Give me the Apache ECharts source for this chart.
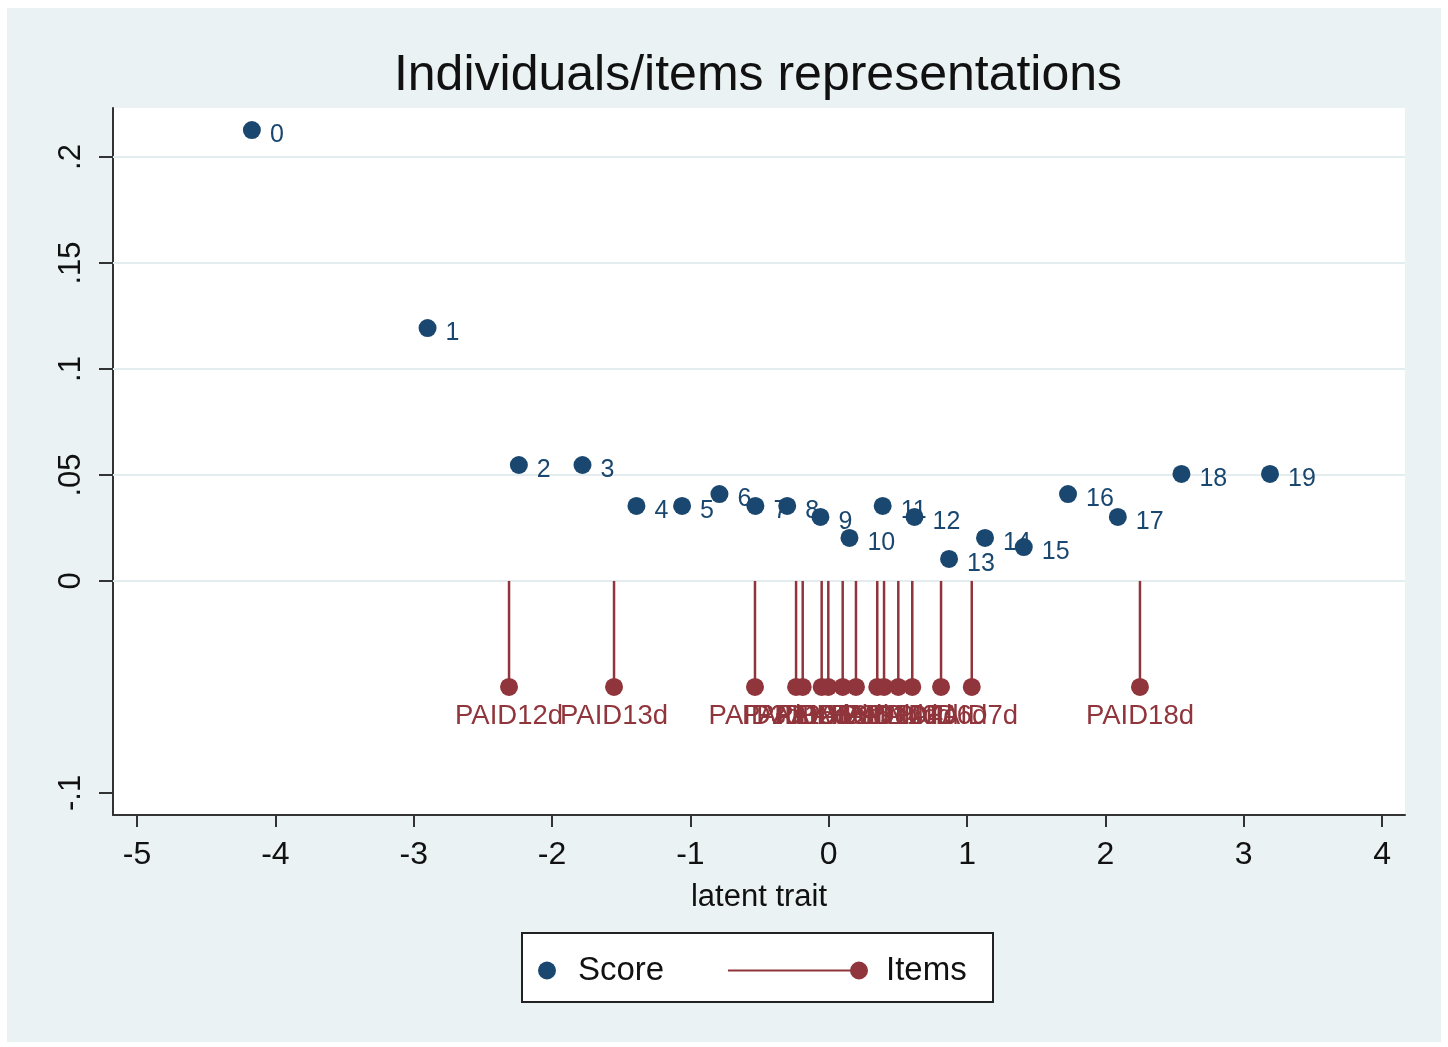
<!DOCTYPE html>
<html>
<head>
<meta charset="utf-8">
<script src="https://cdn.jsdelivr.net/npm/echarts@6/dist/echarts.min.js"></script>
<style>
  html, body { margin: 0; padding: 0; background: #ffffff; }
  #wrap { position: relative; width: 1448px; height: 1047px; background: #ffffff; }
  #chart { position: absolute; left: 7px; top: 8px; width: 1434px; height: 1034px; background: #eaf2f3; }
</style>
</head>
<body>
<div id="wrap"><div id="chart"></div></div>
<script>
// person scores: latent trait value and density, labelled by raw score
const scoreLabels = ['0','1','2','3','4','5','6','7','8','9','10','11','12','13','14','15','16','17','18','19'];
const scoreX = [-4.17, -2.90, -2.24, -1.78, -1.39, -1.06, -0.79, -0.53, -0.30, -0.06,
                0.15, 0.39, 0.62, 0.87, 1.13, 1.41, 1.73, 2.09, 2.55, 3.19];
const scoreY = [0.2127, 0.1193, 0.0547, 0.0547, 0.0354, 0.0354, 0.0410, 0.0354, 0.0354, 0.0302,
                0.0203, 0.0354, 0.0302, 0.0104, 0.0203, 0.0160, 0.0410, 0.0302, 0.0505, 0.0505];

// item difficulties
const itemNames = ['PAID12d','PAID13d','PAID3d','PAID15d','PAID2d','PAID5d','PAID16d','PAID9d',
                   'PAID19d','PAID1d','PAID14d','PAID10d','PAID4d','PAID6d','PAID7d','PAID18d'];
const itemX = [-2.311, -1.552, -0.533, -0.236, -0.188, -0.051, -0.003, 0.101,
               0.197, 0.351, 0.400, 0.503, 0.604, 0.812, 1.034, 2.250];
const itemLevel = -0.05;

// axes
const xTicks = [-5, -4, -3, -2, -1, 0, 1, 2, 3, 4];
const yTicks = [-0.1, 0, 0.05, 0.1, 0.15, 0.2];
const yTickLabels = ['-.1', '0', '.05', '.1', '.15', '.2'];
const yGrid = [0, 0.05, 0.1, 0.15, 0.2];

const NAVY = '#1a476f';
const MAROON = '#90353b';
const FONT = "'Liberation Sans', Arial, Helvetica, sans-serif";

const chart = echarts.init(document.getElementById('chart'));

const scoreData = scoreX.map((x, i) => ({ value: [x, scoreY[i]], name: scoreLabels[i] }));
const itemData = itemX.map((x, i) => ({ value: [x, itemLevel], name: itemNames[i] }));

chart.setOption({
  backgroundColor: 'transparent',
  animation: false,
  title: {
    text: 'Individuals/items representations',
    left: 746,
    top: 38,
    textAlign: 'center',
    textStyle: { fontFamily: FONT, fontSize: 50, fontWeight: 'normal', color: '#111' }
  },
  grid: {
    left: 106, top: 100, width: 1292, height: 707,
    show: true, backgroundColor: '#ffffff', borderWidth: 0
  },
  xAxis: {
    type: 'value',
    min: -5.174, max: 4.166,
    name: 'latent trait',
    nameLocation: 'middle',
    nameGap: 67,
    nameTextStyle: { fontFamily: FONT, fontSize: 31, color: '#111' },
    axisLine: { show: true, onZero: false, lineStyle: { color: '#333', width: 2 } },
    axisTick: { show: true, length: 12, customValues: xTicks, lineStyle: { color: '#333', width: 2 } },
    axisLabel: { customValues: xTicks, margin: 24, fontFamily: FONT, fontSize: 32, color: '#111' },
    splitLine: { show: false }
  },
  yAxis: {
    type: 'value',
    min: -0.1104, max: 0.2231,
    axisLine: { show: true, onZero: false, lineStyle: { color: '#333', width: 2 } },
    axisTick: { show: true, length: 14, customValues: yTicks, lineStyle: { color: '#333', width: 2 } },
    axisLabel: {
      customValues: yTicks, rotate: 90, margin: 26,
      fontFamily: FONT, fontSize: 31, color: '#111',
      formatter: v => {
        const k = yTicks.findIndex(t => Math.abs(t - v) < 1e-9);
        return k >= 0 ? yTickLabels[k] : '';
      }
    },
    splitLine: { show: false }
  },
  legend: [
    {
      data: [{ name: 'Score', icon: 'circle', itemStyle: { color: NAVY } }],
      left: 526, top: 941,
      itemWidth: 18, itemHeight: 18,
      textStyle: { fontFamily: FONT, fontSize: 33, color: '#111', padding: [0, 0, 0, 17] }
    },
    {
      data: [{
        name: 'Items',
        icon: 'path://M0,8 L124,8 L124,10 L0,10 Z M131,0 A9,9 0 1 1 131,18 A9,9 0 1 1 131,0 Z',
        itemStyle: { color: MAROON }
      }],
      left: 716, top: 941,
      itemWidth: 140, itemHeight: 18,
      symbolKeepAspect: false,
      textStyle: { fontFamily: FONT, fontSize: 33, color: '#111', padding: [0, 0, 0, 13] }
    }
  ],
  graphic: [{
    type: 'rect',
    z: 0,
    shape: { x: 515, y: 925, width: 471, height: 69 },
    style: { fill: '#ffffff', stroke: '#222', lineWidth: 2 }
  }],
  series: [
    {
      name: 'Items',
      type: 'custom',
      data: itemData,
      renderItem: (params, api) => {
        const top = api.coord([api.value(0), 0]);
        const bot = api.coord([api.value(0), api.value(1)]);
        return {
          type: 'line',
          shape: { x1: top[0], y1: top[1], x2: bot[0], y2: bot[1] },
          style: { stroke: MAROON, lineWidth: 2.5 }
        };
      },
      markLine: {
        silent: true, symbol: 'none', z: 1,
        label: { show: false },
        lineStyle: { color: '#e3ecee', width: 2, type: 'solid' },
        data: yGrid.map(v => ({ yAxis: v }))
      },
      z: 2
    },
    {
      name: 'Items',
      type: 'scatter',
      data: itemData,
      symbol: 'circle',
      symbolSize: 18,
      itemStyle: { color: MAROON, opacity: 1 },
      label: {
        show: true, position: 'bottom', distance: 6,
        formatter: p => p.name,
        fontFamily: FONT, fontSize: 27.5, color: MAROON
      },
      z: 3
    },
    {
      name: 'Score',
      type: 'scatter',
      data: scoreData,
      symbol: 'circle',
      symbolSize: 18,
      itemStyle: { color: NAVY, opacity: 1 },
      label: {
        show: true, position: 'right', distance: 9, offset: [0, 5],
        formatter: p => p.name,
        fontFamily: FONT, fontSize: 25, color: NAVY
      },
      z: 4
    }
  ]
});
</script>
</body>
</html>
